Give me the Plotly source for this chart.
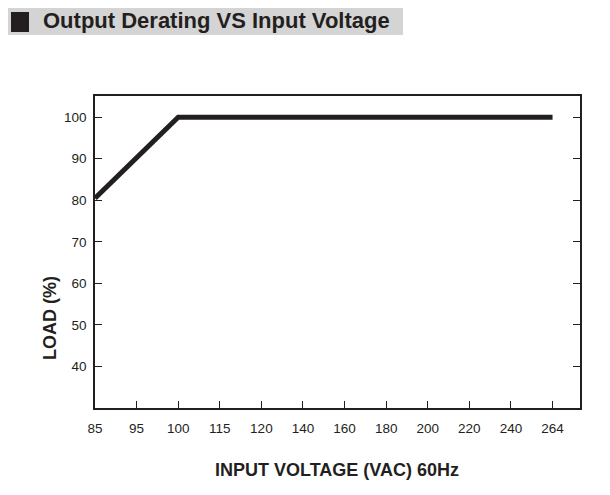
import plotly.graph_objects as go

# data
voltage_labels = ["85", "95", "100", "115", "120", "140", "160", "180", "200", "220", "240", "264"]
line_voltage = ["85", "100", "264"]
line_load = [80.5, 100, 100]
load_ticks = [40, 50, 60, 70, 80, 90, 100]

# the page body adds an 8px margin, so the figure is drawn 8px in from the window edge
OFF = 8
W, H = 610 - 2 * OFF, 495 - 2 * OFF
L, T = 95 - OFF, 96 - OFF
R = W - (580 - OFF)
B = H - (408 - OFF)
INK = "#231f20"
FONT = "Liberation Sans, Arial, sans-serif"


def px_x(p):
    return (p - OFF - L) / (W - L - R)


def px_y(p):
    return (H - B - (p - OFF)) / (H - T - B)


fig = go.Figure()
fig.add_trace(go.Scatter(
    x=line_voltage, y=line_load, mode="lines",
    line=dict(color=INK, width=5), hoverinfo="skip", showlegend=False,
))

fig.update_layout(
    width=W, height=H,
    margin=dict(l=L, r=R, t=T, b=B),
    paper_bgcolor="white", plot_bgcolor="white",
    font=dict(family=FONT, color=INK, size=13),
    xaxis=dict(
        type="category", categoryorder="array", categoryarray=voltage_labels,
        tickvals=voltage_labels, range=[0, 11.66],
        showline=True, linecolor=INK, linewidth=1.5, mirror=True,
        ticks="inside", ticklen=7, tickcolor=INK, tickwidth=1.2,
        showgrid=False, zeroline=False, tickfont=dict(size=13.5),
        ticklabelstandoff=7,
    ),
    yaxis=dict(
        range=[30, 105.1], tickvals=load_ticks,
        showline=True, linecolor=INK, linewidth=1.5, mirror="ticks",
        ticks="inside", ticklen=7, tickcolor=INK, tickwidth=1.2,
        showgrid=False, zeroline=False, tickfont=dict(size=13.5),
        ticklabelstandoff=4,
    ),
)

# grey title bar with black square
fig.add_shape(type="rect", xref="paper", yref="paper",
              x0=px_x(4), x1=px_x(403), y0=px_y(35), y1=px_y(4),
              fillcolor="#d4d4d4", line_width=0, layer="below")
fig.add_shape(type="rect", xref="paper", yref="paper",
              x0=px_x(11), x1=px_x(29), y0=px_y(32), y1=px_y(12),
              fillcolor=INK, line_width=0)
fig.add_annotation(text="<b>Output Derating VS Input Voltage</b>",
                   xref="paper", yref="paper", x=px_x(41), y=px_y(21),
                   xanchor="left", yanchor="middle", showarrow=False,
                   font=dict(size=22, color=INK, family=FONT))

# axis titles
fig.add_annotation(text="<b>INPUT VOLTAGE (VAC) 60Hz</b>",
                   xref="paper", yref="paper", x=px_x(337), y=px_y(470),
                   xanchor="center", yanchor="middle", showarrow=False,
                   font=dict(size=18, color=INK, family=FONT))
fig.add_annotation(text="<b>LOAD (%)</b>", textangle=-90,
                   xref="paper", yref="paper", x=px_x(50), y=px_y(318),
                   xanchor="center", yanchor="middle", showarrow=False,
                   font=dict(size=18, color=INK, family=FONT))

fig.write_html("out.html")
